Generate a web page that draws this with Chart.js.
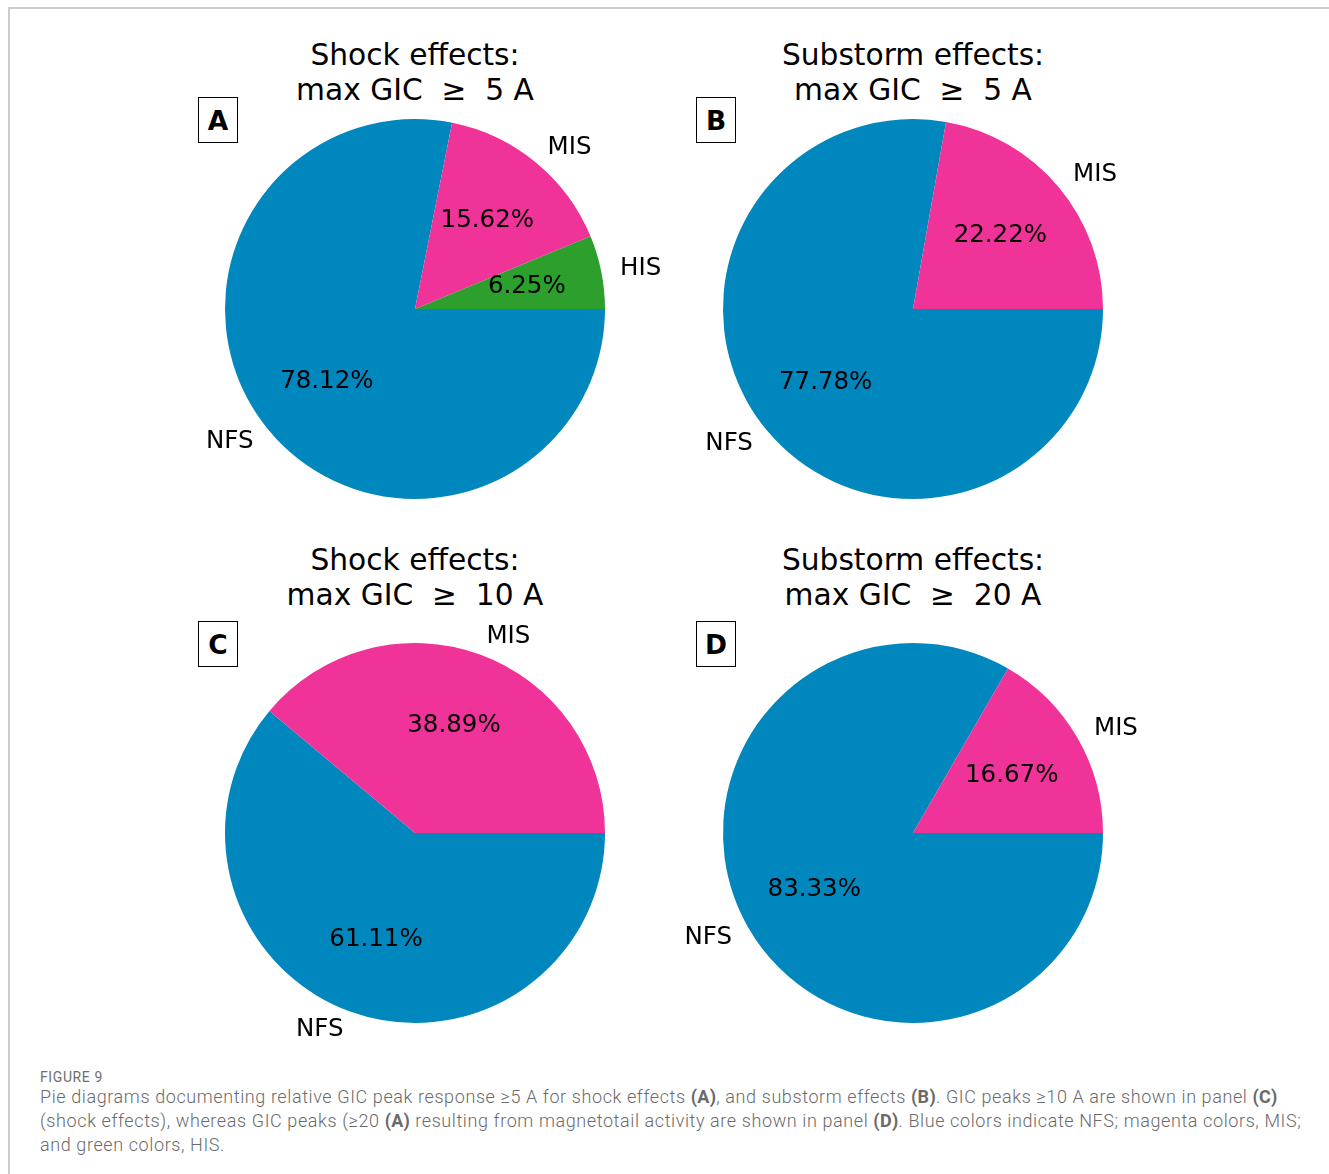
<!DOCTYPE html>
<html>
<head>
<meta charset="utf-8">
<script src="https://cdn.jsdelivr.net/npm/chart.js@4"></script>
<style>
  html, body { margin: 0; padding: 0; background: #fff; }
  #page { position: relative; width: 1329px; height: 1174px; overflow: hidden; }
  #frame { position: absolute; left: 8px; top: 7px; right: -10px; bottom: -10px;
           border-top: 2px solid #cdcdcd; border-left: 2px solid #cdcdcd; }
  canvas { position: absolute; }
  .title { position: absolute; width: 500px; text-align: center; white-space: pre;
           font-family: "DejaVu Sans", sans-serif; font-size: 29.7px; line-height: 35px; color: #000; }
  .tag { position: absolute; width: 38px; height: 44px; border: 1.5px solid #000;
         font-family: "DejaVu Sans", sans-serif; font-weight: bold; font-size: 26.5px;
         line-height: 45px; text-align: center; color: #000; }
  #fig { position: absolute; left: 40px; top: 1069px; font-family: Roboto, sans-serif;
         font-size: 14px; color: #6e6e6e; letter-spacing: 0.6px; }
  #caption { position: absolute; left: 40px; top: 1085px; font-family: Roboto, sans-serif;
             font-weight: 300; font-size: 18px; line-height: 24px; color: #6a6a6a;
             letter-spacing: 0.6px; white-space: nowrap; }
  #caption b { font-weight: 700; letter-spacing: 0.3px; }
</style>
</head>
<body>
<div id="page">
  <div id="frame"></div>

  <div class="title" style="left:165px; top:37px;">Shock effects:
max GIC  ≥  5 A</div>
  <div class="title" style="left:663px; top:37px;">Substorm effects:
max GIC  ≥  5 A</div>
  <div class="title" style="left:165px; top:542px;">Shock effects:
max GIC  ≥  10 A</div>
  <div class="title" style="left:663px; top:542px;">Substorm effects:
max GIC  ≥  20 A</div>

  <div class="tag" style="left:198px; top:97px;">A</div>
  <div class="tag" style="left:696px; top:97px;">B</div>
  <div class="tag" style="left:198px; top:621px;">C</div>
  <div class="tag" style="left:696px; top:621px;">D</div>

  <canvas id="pieA" width="600" height="480" style="left:115px; top:69px;"></canvas>
  <canvas id="pieB" width="600" height="480" style="left:613px; top:69px;"></canvas>
  <canvas id="pieC" width="600" height="480" style="left:115px; top:593px;"></canvas>
  <canvas id="pieD" width="600" height="480" style="left:613px; top:593px;"></canvas>

  <div id="fig">FIGURE 9</div>
  <div id="caption">Pie diagrams documenting relative GIC peak response ≥5 A for shock effects <b>(A)</b>, and substorm effects <b>(B)</b>. GIC peaks ≥10 A are shown in panel <b>(C)</b><br>(shock effects), whereas GIC peaks (≥20 <b>(A)</b> resulting from magnetotail activity are shown in panel <b>(D)</b>. Blue colors indicate NFS; magenta colors, MIS;<br>and green colors, HIS.</div>
</div>

<script>
// percentages per panel, listed counter-clockwise from 3 o'clock
const labelsA = ['HIS', 'MIS', 'NFS'];
const valuesA = [6.25, 15.62, 78.12];

const labelsB = ['MIS', 'NFS'];
const valuesB = [22.22, 77.78];

const labelsC = ['MIS', 'NFS'];
const valuesC = [38.89, 61.11];

const labelsD = ['MIS', 'NFS'];
const valuesD = [16.67, 83.33];

const colorOf = { NFS: '#0087be', MIS: '#ef3399', HIS: '#2c9f2c' };

// writes the percentage inside each wedge and the class name just outside it
const sliceText = {
  id: 'sliceText',
  afterDatasetsDraw(chart) {
    const ctx = chart.ctx;
    const meta = chart.getDatasetMeta(0);
    const ds = chart.data.datasets[0];
    ctx.save();
    ctx.font = '24.5px "DejaVu Sans", sans-serif';
    ctx.fillStyle = '#000';
    ctx.textBaseline = 'middle';
    meta.data.forEach((arc, i) => {
      const mid = (arc.startAngle + arc.endAngle) / 2;
      const r = arc.outerRadius;
      const c = Math.cos(mid), s = Math.sin(mid);
      ctx.textAlign = 'center';
      ctx.fillText(ds.data[i].toFixed(2) + '%', arc.x + 0.6 * r * c, arc.y + 0.6 * r * s);
      ctx.textAlign = c > 0 ? 'left' : 'right';
      ctx.fillText(chart.data.labels[i], arc.x + 1.1 * r * c, arc.y + 1.1 * r * s);
    });
    ctx.restore();
  }
};

function drawPie(id, labels, values) {
  // Chart.js runs clockwise, so reverse the order and start at 3 o'clock
  const lbl = labels.slice().reverse();
  const val = values.slice().reverse();
  new Chart(document.getElementById(id), {
    type: 'pie',
    data: {
      labels: lbl,
      datasets: [{
        data: val,
        backgroundColor: lbl.map(l => colorOf[l]),
        borderWidth: 0,
        hoverOffset: 0,
        offset: 0
      }]
    },
    options: {
      responsive: false,
      animation: false,
      events: [],
      rotation: 90,
      layout: { padding: { left: 110, right: 110, top: 50, bottom: 50 } },
      plugins: { legend: { display: false }, tooltip: { enabled: false } }
    },
    plugins: [sliceText]
  });
}

drawPie('pieA', labelsA, valuesA);
drawPie('pieB', labelsB, valuesB);
drawPie('pieC', labelsC, valuesC);
drawPie('pieD', labelsD, valuesD);
</script>
</body>
</html>
